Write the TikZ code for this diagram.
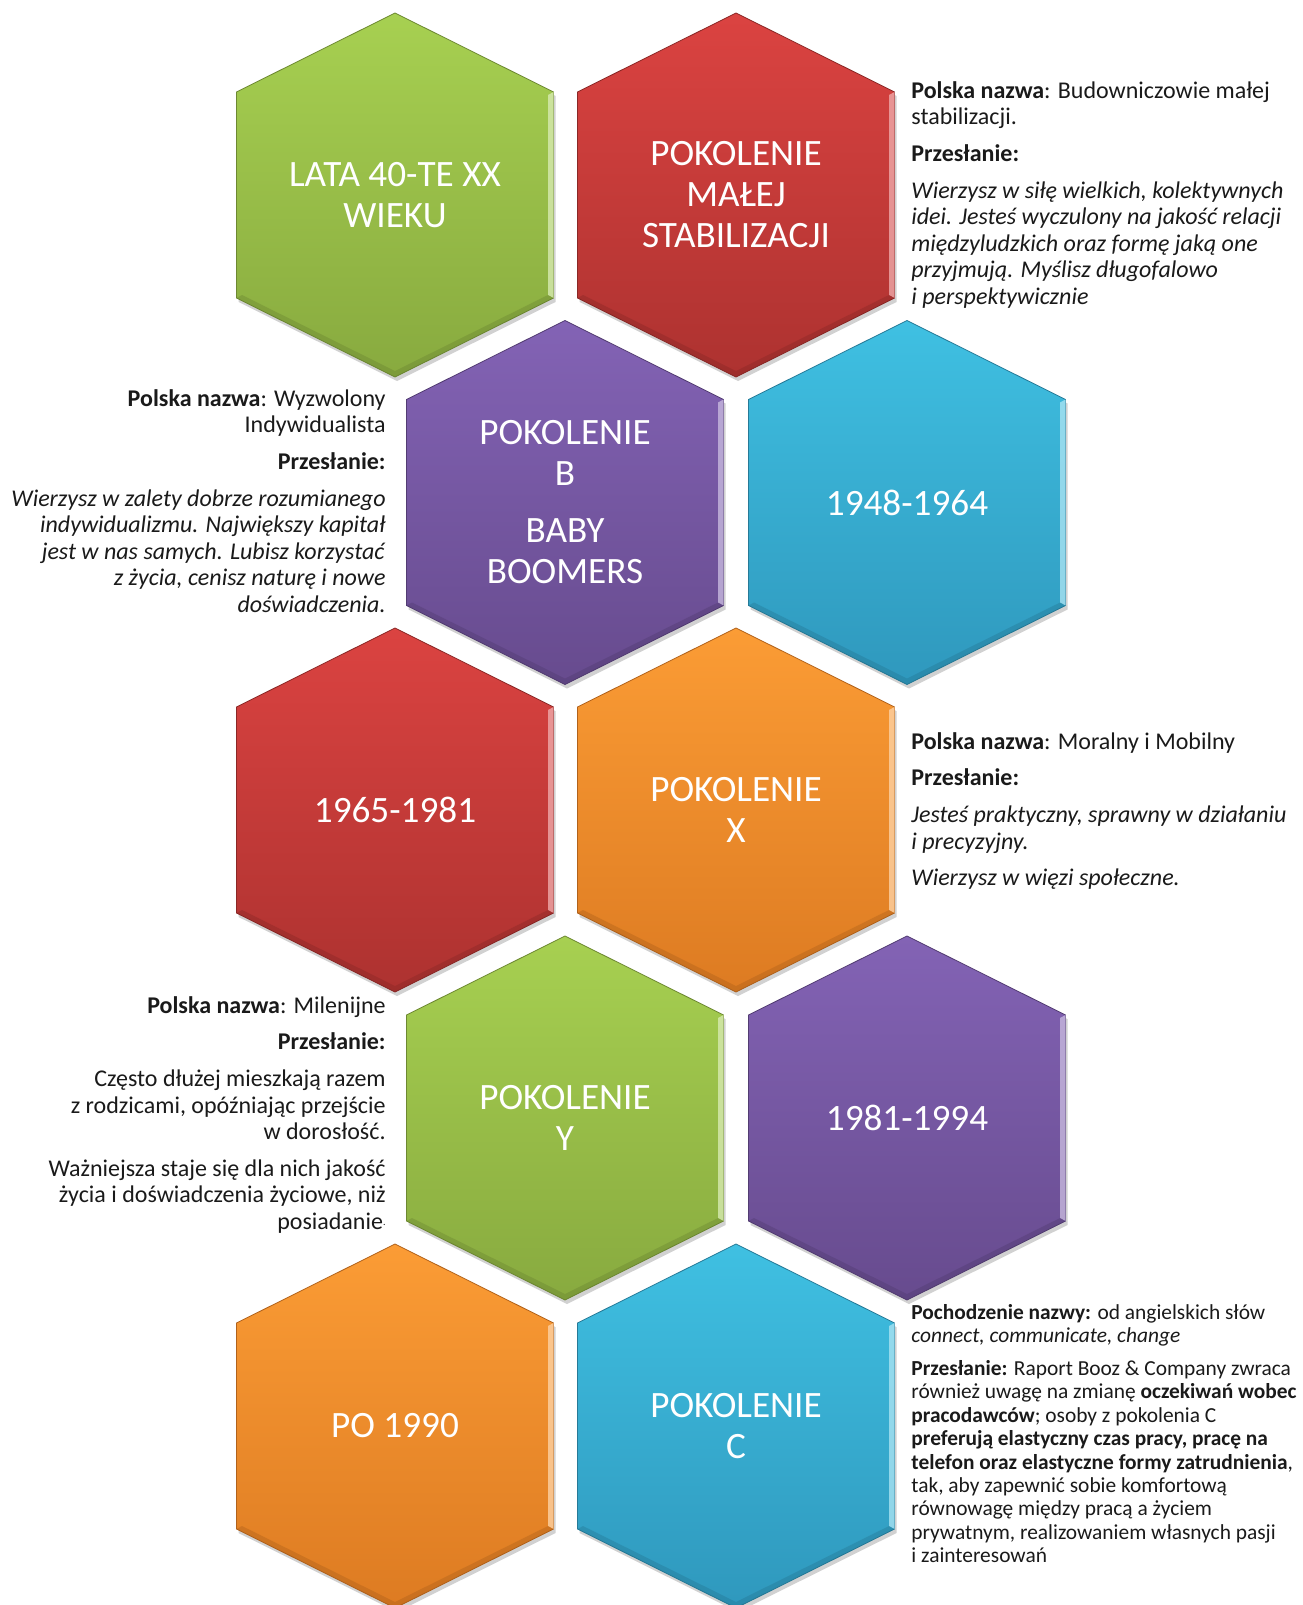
\documentclass[tikz,border=0pt]{standalone}
\usepackage{fontspec}
\setmainfont{Carlito}
\usepackage{tikz}
\definecolor{topgreen}{HTML}{A7D051}
\definecolor{botgreen}{HTML}{88AA3F}
\definecolor{topred}{HTML}{DB4341}
\definecolor{botred}{HTML}{AD3230}
\definecolor{toppurple}{HTML}{8363B5}
\definecolor{botpurple}{HTML}{674B8E}
\definecolor{topblue}{HTML}{3FC0E2}
\definecolor{botblue}{HTML}{2F98BD}
\definecolor{toporange}{HTML}{FB9C35}
\definecolor{botorange}{HTML}{DD7B22}
\definecolor{bodytext}{HTML}{1A1A1A}

\tikzset{
  hexoutline/.style={insert path={(0,-182) -- (158.5,-103) -- (158.5,103) -- (0,182) -- (-158.5,103) -- (-158.5,-103) -- cycle}},
  hexlabel/.style={text=white, align=center, inner sep=0pt, font=\fontsize{18.6}{20.5}\selectfont},
  infotext/.style={text=bodytext, align=left, anchor=north west, inner sep=0pt, font=\fontsize{12}{13.3}\selectfont},
  infotextl/.style={text=bodytext, align=right, anchor=north east, inner sep=0pt, font=\fontsize{12}{13.3}\selectfont},
}

\begin{document}
\begin{tikzpicture}[x=0.5pt, y=-0.5pt]
\fill[white] (0,0) rectangle (1302,1605);
\clip (0,0) rectangle (1302,1605);

\foreach \cx/\cy/\cc/\hname/\htext in {
  395/195/green/lata40/{LATA 40-TE XX\\WIEKU},
  736/195/red/malej/{POKOLENIE\\MAŁEJ\\STABILIZACJI},
  565/502.5/purple/genb/{POKOLENIE\\B\\[8pt]BABY\\BOOMERS},
  907/502.5/blue/lata4864/{1948-1964},
  395/810/red/lata6581/{1965-1981},
  736/810/orange/genx/{POKOLENIE\\X},
  565/1118/green/geny/{POKOLENIE\\Y},
  907/1118/purple/lata8194/{1981-1994},
  395/1426/orange/po1990/{PO 1990},
  736/1426/blue/genc/{POKOLENIE\\C}}{
  \begin{scope}[shift={(\cx,\cy)}]
    \fill[black, opacity=.18, shift={(2,4)}, hexoutline];
    \path[hexoutline, top color=top\cc, bottom color=bot\cc, draw=bot\cc!80!black, line width=.4pt];
    \fill[top\cc!45!white, opacity=.8] (158.5,-103) -- (158.5,103) -- (153,100) -- (153,-100) -- cycle;
    \fill[bot\cc!75!black, opacity=.35] (-158.5,103) -- (0,182) -- (158.5,103) -- (153,100) -- (0,176) -- (-153,100) -- cycle;
  \end{scope}
  \node[hexlabel] (\hname) at (\cx,\cy) {\htext};
}

\node[infotext] (opismalej) at (911,81) {\textbf{Polska nazwa}: Budowniczowie małej\\
  stabilizacji.\\[5pt]
  \textbf{Przesłanie:}\\[5pt]
  \textit{Wierzysz w siłę wielkich, kolektywnych}\\
  \textit{idei. Jesteś wyczulony na jakość relacji}\\
  \textit{międzyludzkich oraz formę jaką one}\\
  \textit{przyjmują. Myślisz długofalowo}\\
  \textit{i perspektywicznie}};

\node[infotextl] (opisb) at (386,389) {\textbf{Polska nazwa}: Wyzwolony\\
  Indywidualista\\[5pt]
  \textbf{Przesłanie:}\\[5pt]
  \textit{Wierzysz w zalety dobrze rozumianego}\\
  \textit{indywidualizmu. Największy kapitał}\\
  \textit{jest w nas samych. Lubisz korzystać}\\
  \textit{z życia, cenisz naturę i nowe}\\
  \textit{doświadczenia.}};

\node[infotext] (opisx) at (911,732) {\textbf{Polska nazwa}: Moralny i Mobilny\\[5pt]
  \textbf{Przesłanie:}\\[5pt]
  \textit{Jesteś praktyczny, sprawny w działaniu}\\
  \textit{i precyzyjny.}\\[5pt]
  \textit{Wierzysz w więzi społeczne.}};

\node[infotextl] (opisy) at (386,996) {\textbf{Polska nazwa}: Milenijne\\[5pt]
  \textbf{Przesłanie:}\\[5pt]
  Często dłużej mieszkają razem\\
  z rodzicami, opóźniając przejście\\
  w dorosłość.\\[5pt]
  Ważniejsza staje się dla nich jakość\\
  życia i doświadczenia życiowe, niż\\
  posiadanie{\tiny\raisebox{2pt}{.}}};

\node[infotext, font=\fontsize{10.7}{11.7}\selectfont] (opisc) at (911,1304) {\textbf{Pochodzenie nazwy:} od angielskich słów\\
  \textit{connect, communicate, change}\\[4.6pt]
  \textbf{Przesłanie:} Raport Booz \& Company zwraca\\
  również uwagę na zmianę \textbf{oczekiwań wobec}\\
  \textbf{pracodawców}; osoby z pokolenia C\\
  \textbf{preferują elastyczny czas pracy, pracę na}\\
  \textbf{telefon oraz elastyczne formy zatrudnienia},\\
  tak, aby zapewnić sobie komfortową\\
  równowagę między pracą a życiem\\
  prywatnym, realizowaniem własnych pasji\\
  i zainteresowań};
\end{tikzpicture}
\end{document}
